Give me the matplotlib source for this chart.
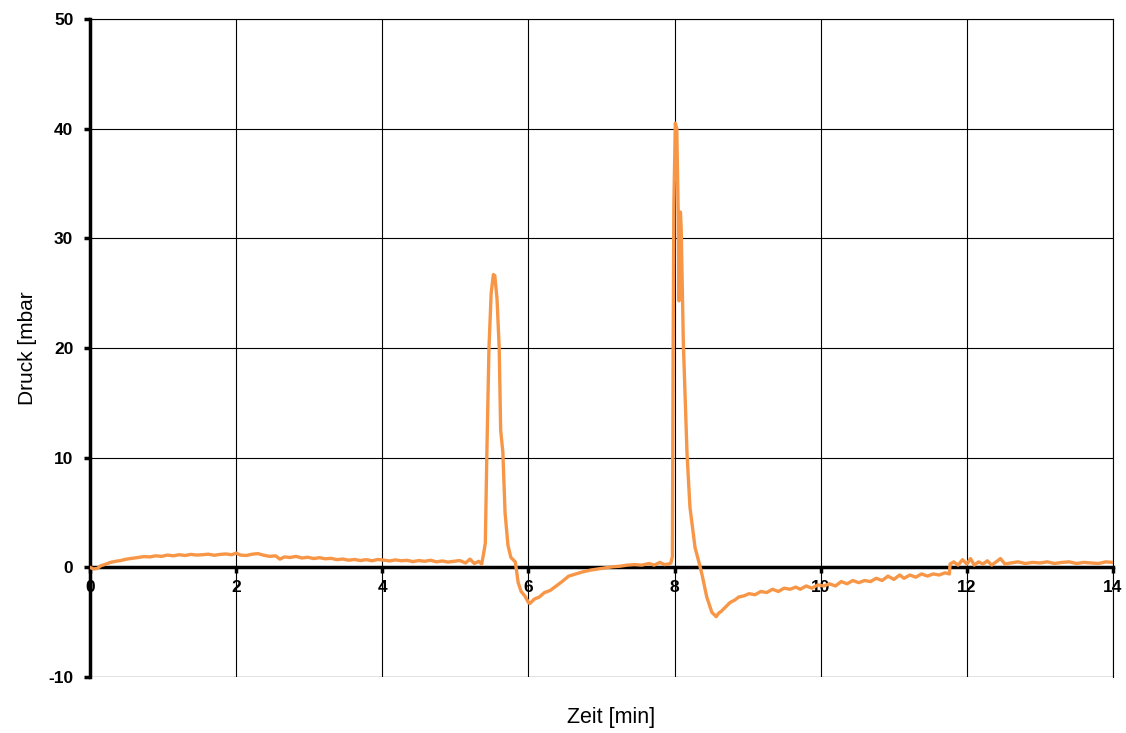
import matplotlib
matplotlib.use("Agg")
import matplotlib.pyplot as plt
import numpy as np

plt.rcParams["font.family"] = ["Liberation Sans", "DejaVu Sans"]
plt.rcParams["axes.unicode_minus"] = False

C_LINE = "#F79646"

# (Zeit [min], Druck [mbar]), segment by segment
seg_start = [
    (0.00, 0.00), (0.05, -0.15), (0.10, -0.10), (0.15, 0.15), (0.20, 0.25),
    (0.28, 0.45), (0.35, 0.55), (0.42, 0.62), (0.50, 0.75), (0.58, 0.82),
    (0.66, 0.90), (0.74, 0.98), (0.82, 0.95), (0.90, 1.05), (0.98, 1.00),
    (1.06, 1.12), (1.14, 1.05), (1.22, 1.15), (1.30, 1.08), (1.38, 1.18),
    (1.46, 1.12), (1.54, 1.15), (1.62, 1.20), (1.70, 1.10), (1.78, 1.18),
    (1.86, 1.22), (1.94, 1.15), (2.00, 1.30), (2.06, 1.12), (2.14, 1.08),
    (2.22, 1.20), (2.30, 1.25), (2.38, 1.10), (2.46, 1.00), (2.54, 1.05),
    (2.60, 0.75), (2.66, 0.95), (2.74, 0.90), (2.82, 1.00), (2.90, 0.85),
    (2.98, 0.92), (3.06, 0.80), (3.14, 0.88), (3.22, 0.78), (3.30, 0.82),
    (3.38, 0.70), (3.46, 0.76), (3.54, 0.65), (3.62, 0.72), (3.70, 0.62),
    (3.78, 0.70), (3.86, 0.60), (3.94, 0.72), (4.02, 0.66), (4.10, 0.58),
    (4.18, 0.68), (4.26, 0.60), (4.34, 0.64), (4.42, 0.52), (4.50, 0.62),
    (4.58, 0.55), (4.66, 0.65), (4.74, 0.50), (4.82, 0.58), (4.90, 0.48),
    (4.98, 0.55), (5.06, 0.62), (5.14, 0.40), (5.20, 0.75), (5.26, 0.35),
    (5.32, 0.55),
]
seg_peak1 = [
    (5.36, 0.30), (5.38, 1.0), (5.41, 2.2), (5.43, 10.0), (5.46, 20.0),
    (5.49, 25.0), (5.52, 26.7), (5.54, 26.6), (5.57, 24.5), (5.60, 20.0),
    (5.62, 12.5), (5.65, 10.5), (5.68, 5.0), (5.72, 2.0), (5.76, 0.9),
    (5.82, 0.5), (5.86, -1.4), (5.90, -2.2), (5.95, -2.6), (6.00, -3.2),
    (6.02, -3.3),
]
seg_recovery1 = [
    (6.08, -2.9), (6.15, -2.7), (6.22, -2.3), (6.30, -2.1), (6.38, -1.7),
    (6.46, -1.3), (6.55, -0.8), (6.65, -0.6), (6.75, -0.4), (6.85, -0.25),
    (6.95, -0.15), (7.05, -0.05), (7.15, 0.05), (7.25, 0.10), (7.35, 0.20),
    (7.45, 0.25), (7.55, 0.20), (7.65, 0.35), (7.72, 0.20), (7.80, 0.45),
    (7.86, 0.25), (7.92, 0.30), (7.95, 0.40),
]
seg_peak2 = [
    (7.97, 1.0), (7.98, 20.0), (7.99, 33.0), (8.01, 40.5), (8.03, 40.0),
    (8.05, 32.0), (8.06, 24.3), (8.07, 28.0), (8.08, 32.4), (8.09, 31.0),
    (8.12, 20.4), (8.17, 10.4), (8.21, 5.5), (8.28, 1.8), (8.34, 0.3),
    (8.38, -0.8), (8.44, -2.7), (8.51, -4.1), (8.57, -4.5), (8.60, -4.2),
]
seg_recovery2 = [
    (8.64, -4.0), (8.70, -3.6), (8.76, -3.2), (8.82, -3.0), (8.88, -2.7),
    (8.95, -2.6), (9.02, -2.4), (9.10, -2.5), (9.18, -2.2), (9.26, -2.3),
    (9.34, -2.0), (9.42, -2.2), (9.50, -1.9), (9.58, -2.0), (9.66, -1.8),
    (9.72, -2.0), (9.80, -1.7), (9.88, -1.9), (9.96, -1.6), (10.04, -1.7),
    (10.12, -1.5), (10.20, -1.7), (10.28, -1.3), (10.36, -1.5), (10.44, -1.2),
    (10.52, -1.4), (10.60, -1.2), (10.68, -1.3), (10.76, -1.0), (10.84, -1.2),
    (10.92, -0.8), (11.00, -1.1), (11.08, -0.7), (11.14, -1.0), (11.22, -0.7),
    (11.30, -0.9), (11.38, -0.6), (11.46, -0.8), (11.54, -0.6), (11.62, -0.7),
    (11.70, -0.5), (11.76, -0.6),
]
seg_tail = [
    (11.77, 0.3), (11.82, 0.5), (11.88, 0.2), (11.94, 0.7), (12.00, 0.3),
    (12.05, 0.8), (12.10, 0.2), (12.16, 0.5), (12.22, 0.3), (12.28, 0.6),
    (12.34, 0.2), (12.40, 0.5), (12.46, 0.8), (12.52, 0.3), (12.60, 0.4),
    (12.70, 0.5), (12.80, 0.35), (12.90, 0.45), (13.00, 0.4), (13.10, 0.5),
    (13.20, 0.35), (13.30, 0.45), (13.40, 0.5), (13.50, 0.35), (13.60, 0.45),
    (13.70, 0.4), (13.80, 0.35), (13.90, 0.5), (14.00, 0.45),
]

x_ticks = [0, 2, 4, 6, 8, 10, 12, 14]
y_ticks = [-10, 0, 10, 20, 30, 40, 50]

data = np.array(seg_start + seg_peak1 + seg_recovery1 + seg_peak2
                + seg_recovery2 + seg_tail)
zeit, druck = data[:, 0], data[:, 1]

fig = plt.figure(figsize=(11.26, 7.33), dpi=100)
ax = fig.add_axes([0.0799, 0.0764, 0.9086, 0.8976])

ax.set_xlim(0, 14)
ax.set_ylim(-10, 50)
ax.set_xticks(x_ticks)
ax.set_yticks(y_ticks)
ax.grid(True, color="black", linewidth=0.8, zorder=0)

ax.plot(zeit, druck, color=C_LINE, linewidth=2.4, zorder=3,
        solid_joinstyle="round")

# axes: thick left spine, bottom axis sits at y=0
ax.spines["left"].set_linewidth(2.5)
ax.spines["bottom"].set_position(("data", 0))
ax.spines["bottom"].set_linewidth(2.5)
ax.spines["bottom"].set_zorder(2)
ax.spines["top"].set_linewidth(0.8)
ax.spines["right"].set_linewidth(0.8)
# bottom edge at -10 as a grid line
ax.axhline(-10, color="black", linewidth=0.8, zorder=0)

ax.tick_params(axis="both", direction="out", length=4, width=2.5,
               labelsize=12.5)
ax.tick_params(axis="x", pad=5)
ax.tick_params(axis="y", pad=8)
for lbl in ax.get_xticklabels() + ax.get_yticklabels():
    lbl.set_fontweight("bold")

ax.set_ylabel("Druck [mbar", fontsize=15, labelpad=8)
fig.text(0.543, 0.007, "Zeit [min]", fontsize=15.5, ha="center", va="bottom")

plt.savefig("out.png", dpi=100)
plt.close()
